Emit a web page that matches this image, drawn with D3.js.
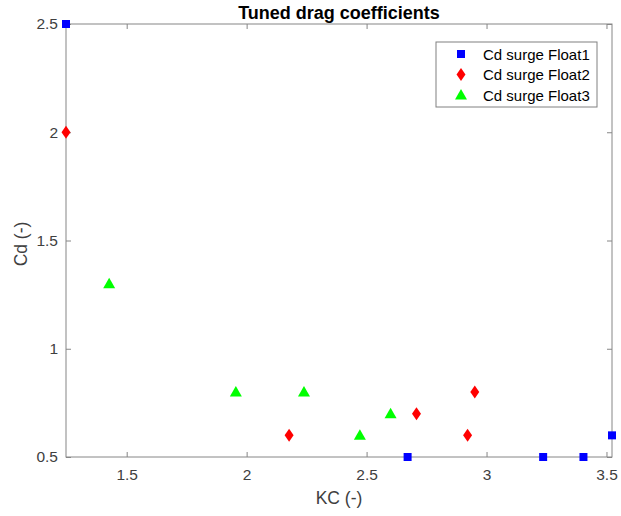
<!DOCTYPE html>
<html>
<head>
<meta charset="utf-8">
<script src="https://cdn.jsdelivr.net/npm/d3@7"></script>
<style>
  body { margin: 0; background: #fff; }
  text { font-family: Arial, "Liberation Sans", sans-serif; }
</style>
</head>
<body>
<div id="chart"></div>
<script>
// Data
const float1KC = [1.247, 2.671, 3.236, 3.404, 3.523];
const float1Cd = [2.5, 0.5, 0.5, 0.5, 0.6];
const float2KC = [1.247, 2.177, 2.708, 2.921, 2.951];
const float2Cd = [2.0, 0.6, 0.7, 0.6, 0.8];
const float3KC = [1.427, 1.955, 2.239, 2.472, 2.600];
const float3Cd = [1.3, 0.8, 0.8, 0.6, 0.7];
const seriesNames = ["Cd surge Float1", "Cd surge Float2", "Cd surge Float3"];
const xTicks = [1.5, 2, 2.5, 3, 3.5];
const yTicks = [0.5, 1, 1.5, 2, 2.5];

const width = 621;
const height = 516;
const plotLeft = 66, plotRight = 612, plotTop = 24, plotBottom = 457;

const svg = d3.select("#chart")
  .append("svg")
  .attr("width", width)
  .attr("height", height);

const xScale = d3.scaleLinear().domain([1.247, 3.523]).range([plotLeft, plotRight]);
const yScale = d3.scaleLinear().domain([0.5, 2.5]).range([plotBottom, plotTop]);

const axisColor = "#868686";
const labelColor = "#404040";

// box
svg.append("rect")
  .attr("x", plotLeft).attr("y", plotTop)
  .attr("width", plotRight - plotLeft).attr("height", plotBottom - plotTop)
  .attr("fill", "none").attr("stroke", axisColor).attr("stroke-width", 1);

// axes (ticks point inward)
const fmt = d => String(d);
svg.append("g")
  .attr("transform", `translate(0,${plotBottom})`)
  .call(d3.axisBottom(xScale).tickValues(xTicks).tickSizeInner(-5).tickSizeOuter(0).tickPadding(12).tickFormat(fmt))
  .call(g => g.select(".domain").remove());
svg.append("g")
  .attr("transform", `translate(0,${plotTop})`)
  .call(d3.axisTop(xScale).tickValues(xTicks).tickSizeInner(-5).tickSizeOuter(0).tickFormat(""))
  .call(g => g.select(".domain").remove());
svg.append("g")
  .attr("transform", `translate(${plotLeft},0)`)
  .call(d3.axisLeft(yScale).tickValues(yTicks).tickSizeInner(-5).tickSizeOuter(0).tickPadding(8).tickFormat(fmt))
  .call(g => g.select(".domain").remove());
svg.append("g")
  .attr("transform", `translate(${plotRight},0)`)
  .call(d3.axisRight(yScale).tickValues(yTicks).tickSizeInner(-5).tickSizeOuter(0).tickFormat(""))
  .call(g => g.select(".domain").remove());

svg.selectAll(".tick line").attr("stroke", axisColor);
svg.selectAll(".tick text")
  .attr("fill", labelColor)
  .style("font-size", "15.5px");

// title and axis labels
svg.append("text")
  .attr("x", (plotLeft + plotRight) / 2).attr("y", 19)
  .attr("text-anchor", "middle")
  .style("font-size", "18px").style("font-weight", "bold")
  .attr("fill", "#000")
  .text("Tuned drag coefficients");
svg.append("text")
  .attr("x", (plotLeft + plotRight) / 2).attr("y", 504)
  .attr("text-anchor", "middle")
  .style("font-size", "17.5px")
  .attr("fill", labelColor)
  .text("KC (-)");
svg.append("text")
  .attr("transform", `translate(27,244) rotate(-90)`)
  .attr("text-anchor", "middle")
  .style("font-size", "17.5px")
  .attr("fill", labelColor)
  .text("Cd (-)");

// markers
const square = d3.symbol().type(d3.symbolSquare).size(64);
const diamond = "M0,-6.5L4.5,0L0,6.5L-4.5,0Z";
const triangle = "M0,-6L6,4.5L-6,4.5Z";

const series = [
  { kc: float1KC, cd: float1Cd, color: "#0000ff", path: square() },
  { kc: float2KC, cd: float2Cd, color: "#ff0000", path: diamond },
  { kc: float3KC, cd: float3Cd, color: "#00ff00", path: triangle }
];

series.forEach(s => {
  svg.selectAll(null)
    .data(s.kc.map((k, i) => [k, s.cd[i]]))
    .enter()
    .append("path")
    .attr("d", s.path)
    .attr("fill", s.color)
    .attr("transform", d => `translate(${xScale(d[0])},${yScale(d[1])})`);
});

// legend
const legend = svg.append("g");
legend.append("rect")
  .attr("x", 436).attr("y", 42)
  .attr("width", 161).attr("height", 65)
  .attr("fill", "#fff").attr("stroke", "#808080");
series.forEach((s, i) => {
  const y = 54 + i * 20.5;
  legend.append("path")
    .attr("d", s.path)
    .attr("fill", s.color)
    .attr("transform", `translate(461,${y})`);
  legend.append("text")
    .attr("x", 483).attr("y", y + 5.5)
    .style("font-size", "15px")
    .attr("fill", "#000")
    .text(seriesNames[i]);
});
</script>
</body>
</html>
